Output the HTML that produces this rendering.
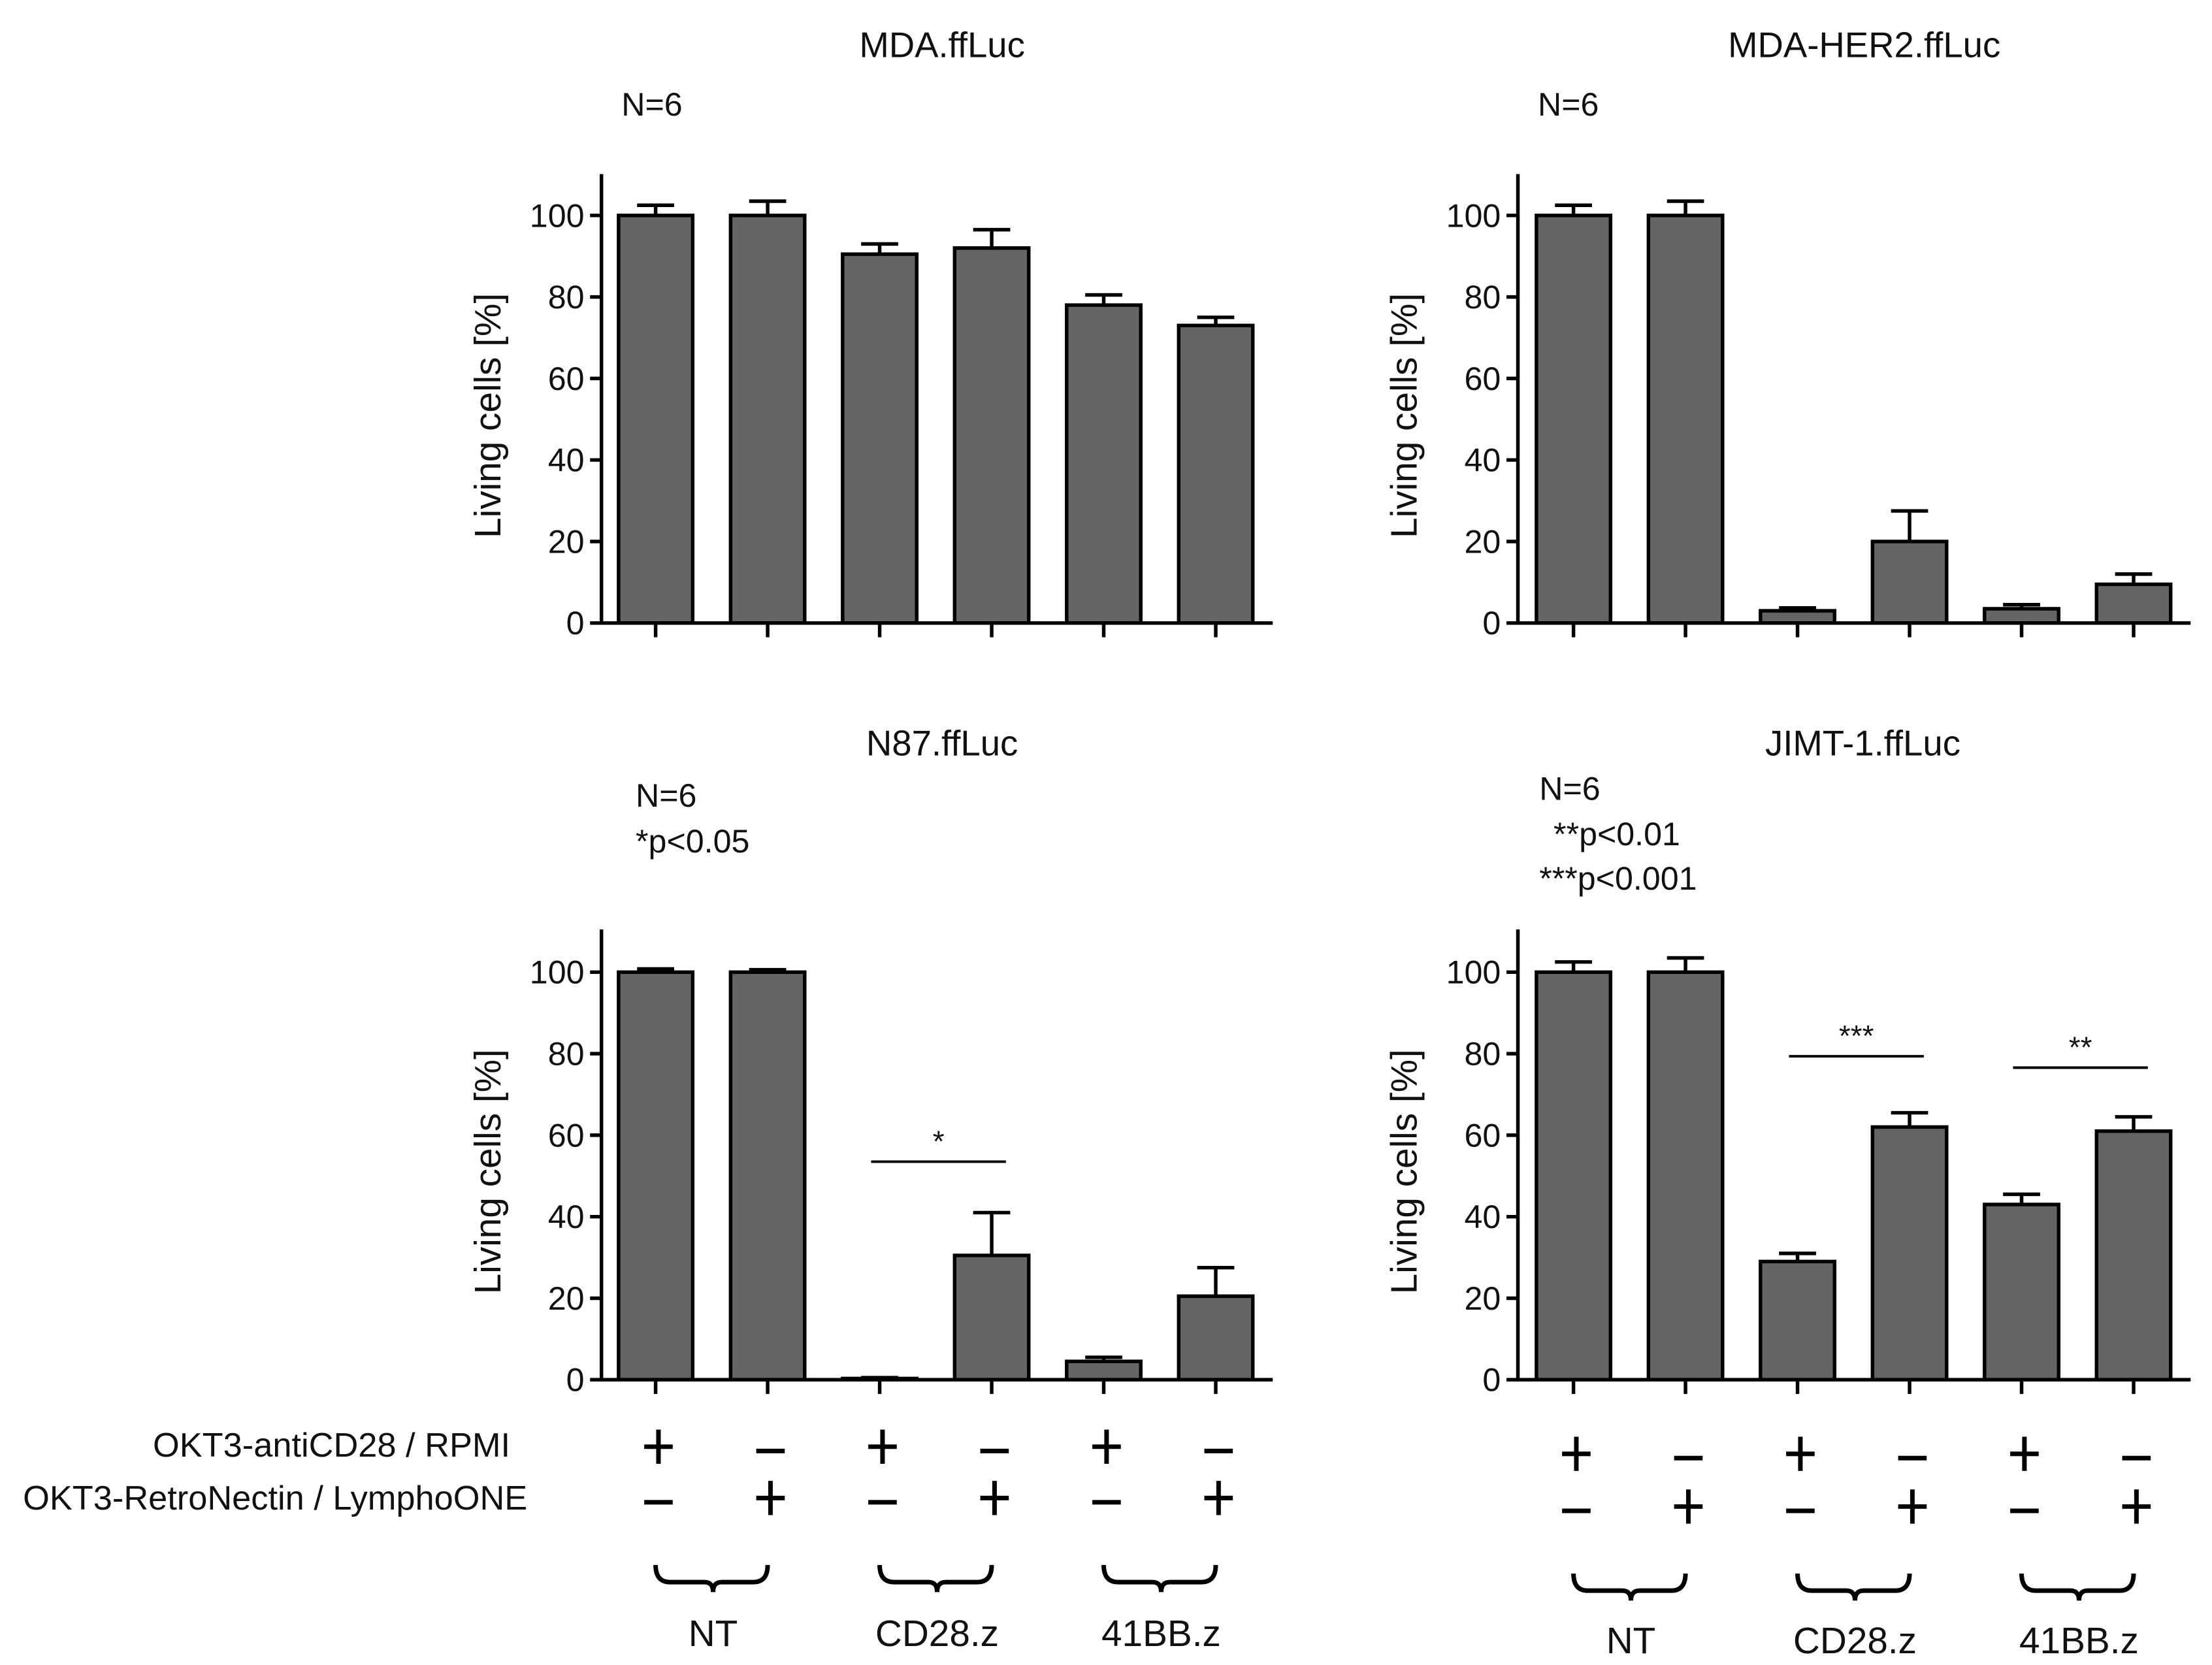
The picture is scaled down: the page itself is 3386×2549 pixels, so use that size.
<!DOCTYPE html>
<html><head><meta charset="utf-8"><style>
html,body{margin:0;padding:0;background:#fff;}
svg{display:block;}
text{font-family:"Liberation Sans",sans-serif;fill:#111;}
</style></head><body>
<svg id="fig" width="3386" height="2549" viewBox="0 0 1552 1168" xmlns="http://www.w3.org/2000/svg"></svg>
<script>
const titles = ["MDA.ffLuc","MDA-HER2.ffLuc","N87.ffLuc","JIMT-1.ffLuc"];
const yTicks = [0,20,40,60,80,100];
const signRow1 = ["+","-","+","-","+","-"];
const signRow2 = ["-","+","-","+","-","+"];
const groups = ["NT","CD28.z","41BB.z"];
const valsMDA = [100,100,90.5,92,78,73];
const errMDA = [2.5,3.5,2.5,4.5,2.5,2];
const valsHER2 = [100,100,3,20,3.5,9.5];
const errHER2 = [2.5,3.5,0.7,7.5,1,2.5];
const valsN87 = [100,100,0.3,30.5,4.5,20.5];
const errN87 = [0.8,0.6,0.2,10.5,1,7];
const valsJIMT = [100,100,29,62,43,61];
const errJIMT = [2.5,3.5,2,3.5,2.5,3.5];

const NS="http://www.w3.org/2000/svg";
const svg=document.getElementById('fig');
function el(tag,attrs,parent,txt){const e=document.createElementNS(NS,tag);for(const k in attrs)e.setAttribute(k,attrs[k]);if(txt!==undefined)e.textContent=txt;(parent||svg).appendChild(e);return e;}

const panels=[
 {ax:422,x0:460,top:122,zero:437,hundred:151,end:893,vals:valsMDA,err:errMDA,title:titles[0],tx:661,ty:40,notes:[["N=6",436,81]],sig:[]},
 {ax:1065,x0:1104,top:122,zero:437,hundred:151,end:1537,vals:valsHER2,err:errHER2,title:titles[1],tx:1308,ty:40,notes:[["N=6",1079,81]],sig:[]},
 {ax:422,x0:460,top:652,zero:968,hundred:682,end:893,vals:valsN87,err:errN87,title:titles[2],tx:661,ty:530,notes:[["N=6",446,566],["*p<0.05",446,598]],sig:[[2,3,"*",815]],signY:[1015,1051],braceY:1098,labY:1155},
 {ax:1065,x0:1104,top:652,zero:968,hundred:682,end:1537,vals:valsJIMT,err:errJIMT,title:titles[3],tx:1307,ty:530,notes:[["N=6",1080,561],["**p<0.01",1090,593],["***p<0.001",1080,624]],sig:[[2,3,"***",741],[4,5,"**",749]],signY:[1020,1057],braceY:1104,labY:1160}
];
const step=78.6, bw=52;
panels.forEach((p,pi)=>{
  const g=el('g',{});
  
  
  const y=v=>p.zero-(p.zero-p.hundred)*v/100;
  const xc=i=>p.x0+i*step;
  const t=el('text',{x:p.tx,y:p.ty,'font-size':25,'text-anchor':'middle'},g,p.title);
  
  
  p.notes.forEach(n=>{const nt=el('text',{x:n[1],y:n[2],'font-size':23},g,n[0]);
    
    });
  p.vals.forEach((v,i)=>{
    const eb=el('path',{d:`M${xc(i)} ${y(v)} V${y(v+p.err[i])} M${xc(i)-13} ${y(v+p.err[i])} H${xc(i)+13}`,stroke:'#000','stroke-width':2.5,fill:'none'},g);
    
    
    const r=el('rect',{x:xc(i)-bw/2,y:y(v),width:bw,height:p.zero-y(v),fill:'#646464',stroke:'#000','stroke-width':2.5},g);
    
    
    el('line',{x1:xc(i),x2:xc(i),y1:p.zero,y2:p.zero+10,stroke:'#000','stroke-width':2.5},g);
  });
  const ya=el('line',{x1:p.ax,x2:p.ax,y1:p.top,y2:p.zero+1,stroke:'#000','stroke-width':2.5},g);
  
  
  const xa=el('line',{x1:p.ax,x2:p.end,y1:p.zero,y2:p.zero,stroke:'#000','stroke-width':2.5},g);
  
  
  yTicks.forEach(v=>{
    el('line',{x1:p.ax-8,x2:p.ax,y1:y(v),y2:y(v),stroke:'#000','stroke-width':2.5},g);
    const tl=el('text',{x:p.ax-12,y:y(v)+8,'font-size':23,'text-anchor':'end'},g,String(v));
    
    
  });
  const yt=el('text',{x:0,y:0,'font-size':26,'text-anchor':'middle',transform:`translate(${p.ax-71},${(p.top+p.zero)/2+12}) rotate(-90)`},g,'Living cells [%]');
  
  
  p.sig.forEach(s=>{
    const sl=el('line',{x1:xc(s[0])-6,x2:xc(s[1])+10,y1:s[3],y2:s[3],stroke:'#000','stroke-width':1.8},g);
    
    
    const st=el('text',{x:(xc(s[0])+xc(s[1]))/2+2,y:s[3]-7,'font-size':21,'text-anchor':'middle'},g,s[2]);
    
    
  });
  if(p.signY){
    [signRow1,signRow2].forEach((row,ri)=>{
      const sy=p.signY[ri];
      row.forEach((s,i)=>{
        const c=xc(i)+2;
        let d=`M${c-10} ${sy+ (s==='+'?0:3)} H${c+10}`;
        if(s==='+') d+=` M${c} ${sy-12} V${sy+12}`;
        const sg=el('path',{d:d,stroke:'#000','stroke-width':3.2,fill:'none'},g);
        
        
      });
    });
    groups.forEach((gname,k)=>{
      const a=xc(2*k), b=xc(2*k+1), m=(a+b)/2+1, by=p.braceY;
      const br=el('path',{d:`M${a} ${by} Q${a} ${by+12} ${a+10} ${by+12} H${m-6} Q${m} ${by+12} ${m} ${by+19} Q${m} ${by+12} ${m+6} ${by+12} H${b-10} Q${b} ${by+12} ${b} ${by}`,stroke:'#000','stroke-width':3.2,fill:'none'},g);
      
      
      const gl=el('text',{x:m,y:p.labY,'font-size':26,'text-anchor':'middle'},g,gname);
      
      
    });
  }
});
const l1=el('text',{x:358,y:1022,'font-size':24,'text-anchor':'end'},svg,'OKT3-antiCD28 / RPMI');


const l2=el('text',{x:370,y:1059,'font-size':24,'text-anchor':'end'},svg,'OKT3-RetroNectin / LymphoONE');


</script>
</body></html>
